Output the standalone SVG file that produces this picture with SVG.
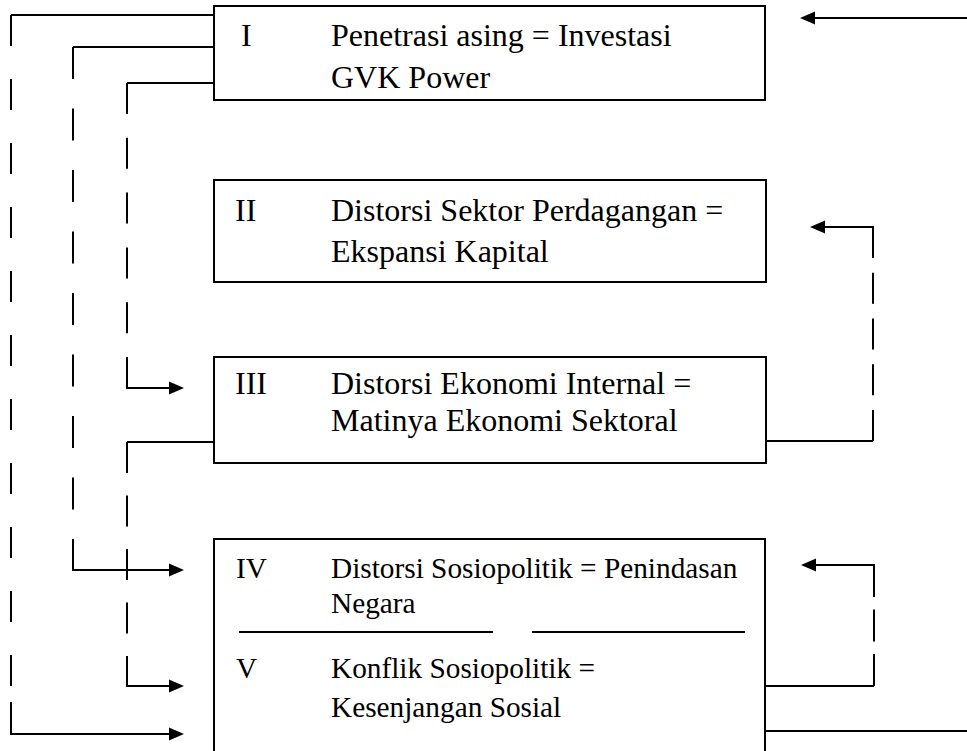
<svg xmlns="http://www.w3.org/2000/svg" width="967" height="751" viewBox="0 0 967 751">
<style>
.box{fill:#fff;stroke:#000;stroke-width:2}
.ln{fill:none;stroke:#000;stroke-width:2}
.t{font-family:"Liberation Serif","Times New Roman",serif;font-size:32px;fill:#000}
.s{font-size:29.3px}
</style>
<defs>
<marker id="ah" markerUnits="userSpaceOnUse" viewBox="0 -7 15 14" refX="0" refY="0" markerWidth="15" markerHeight="14" orient="auto">
<path d="M0,-6.5 L15,0 L0,6.5 z" fill="#000"/>
</marker>
</defs>
<rect width="967" height="751" fill="#fff"/>
<g id="connectors">
<path class="ln" d="M214,15 H11"/>
<path class="ln" d="M11,15 V687" stroke-dasharray="31 33"/>
<path class="ln" d="M11,702 V734 H169" marker-end="url(#ah)"/>
<path class="ln" d="M214,47 H73"/>
<path class="ln" d="M73,47 V571" stroke-dasharray="32 29.5"/>
<path class="ln" d="M73,570 H169" marker-end="url(#ah)"/>
<path class="ln" d="M214,83 H127"/>
<path class="ln" d="M127,83 V388" stroke-dasharray="31 23.8"/>
<path class="ln" d="M127,387 V388 H169" marker-end="url(#ah)"/>
<path class="ln" d="M214,442 H127"/>
<path class="ln" d="M127,442 V686" stroke-dasharray="31 22.5"/>
<path class="ln" d="M127,685 V686 H169" marker-end="url(#ah)"/>
<path class="ln" d="M766,441 H873"/>
<path class="ln" d="M873,441 V227" stroke-dasharray="31 14.75"/>
<path class="ln" d="M873,228 V227 H825" marker-end="url(#ah)"/>
<path class="ln" d="M765,686 H874"/>
<path class="ln" d="M874,686 V565" stroke-dasharray="32 12.5"/>
<path class="ln" d="M874,566 V565 H816" marker-end="url(#ah)"/>
<path class="ln" d="M765,731 H967"/>
<path class="ln" d="M967,18 H815" marker-end="url(#ah)"/>
</g>
<g id="node-I">
<rect class="box" x="214" y="6" width="551" height="94"/>
<text class="t" x="241" y="46">I</text>
<text class="t" x="331" y="46">Penetrasi asing = Investasi</text>
<text class="t" x="331" y="88">GVK Power</text>
</g>
<g id="node-II">
<rect class="box" x="214" y="180" width="552" height="102"/>
<text class="t" x="235" y="221">II</text>
<text class="t" x="331" y="221">Distorsi Sektor Perdagangan =</text>
<text class="t" x="331" y="262">Ekspansi Kapital</text>
</g>
<g id="node-III">
<rect class="box" x="214" y="357" width="552" height="106"/>
<text class="t" x="235" y="394">III</text>
<text class="t" x="331" y="394">Distorsi Ekonomi Internal =</text>
<text class="t" x="331" y="431">Matinya Ekonomi Sektoral</text>
</g>
<g id="node-IV-V">
<rect class="box" x="214" y="539" width="551" height="230"/>
<text class="t s" x="236" y="578">IV</text>
<text class="t s" x="331" y="578">Distorsi Sosiopolitik = Penindasan</text>
<text class="t s" x="331" y="613">Negara</text>
<path class="ln" d="M239,632 H493 M532,632 H745"/>
<text class="t s" x="236" y="678">V</text>
<text class="t s" x="331" y="678">Konflik Sosiopolitik =</text>
<text class="t s" x="331" y="717">Kesenjangan Sosial</text>
</g>
</svg>
